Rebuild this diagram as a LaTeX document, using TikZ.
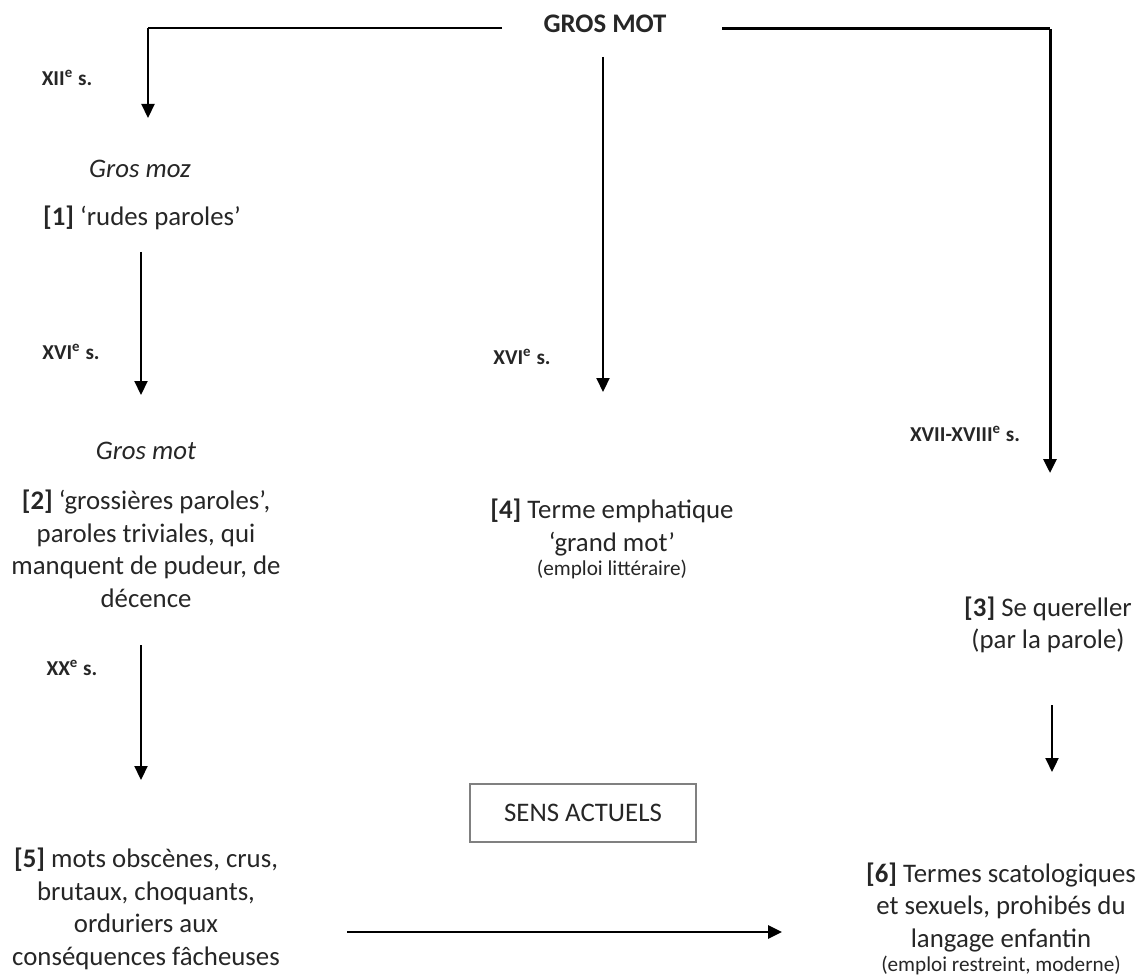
\documentclass[tikz,border=0pt]{standalone}
\usepackage{fontspec}
\setmainfont{Carlito}
\usetikzlibrary{arrows.meta}
\def\grandfont{\fontsize{13.4}{16.25}\selectfont}
\def\petitfont{\fontsize{10.6}{12.5}\selectfont}

\tikzset{
	sens/.style={align=center, inner sep=0pt, text=black!85, font=\grandfont},
	siecle/.style={inner sep=0pt, text=black!85, font=\petitfont\bfseries},
	trait/.style={line width=1.2pt},
	fleche/.style={line width=1.1pt, -{Triangle[width=6.5pt,length=7pt]}},
}

\begin{document}
\begin{tikzpicture}[x=0.5pt, y=-0.5pt]
		%%%%% START %%%%%
		\useasboundingbox (0,0) rectangle (1144,978);
		
		\node[sens, font=\grandfont\bfseries] (gros) at (605,24) {GROS MOT};
		
		\coordinate (hautG) at (502,28);
		\coordinate (coinG) at (148,28);
		\coordinate (hautD) at (722,29);
		\coordinate (coinD) at (1050,29);
		\draw[trait] (hautG) -- (coinG);
		\draw[trait, line width=1.5pt] (hautD) -- (coinD);
		
		% colonne gauche
		\coordinate (f1) at (148,118);
		\draw[fleche] (coinG) -- (f1);
		\node[siecle] (xii) at (67,78) {XII\textsuperscript{e} s.};
		
		\node[sens, font=\grandfont\itshape] (moz) at (140,169) {Gros moz};
		\node[sens] (s1) at (142,218) {\textbf{[1]} ‘rudes paroles’};
		
		\coordinate (d2) at (141,252);
		\coordinate (f2) at (141,395);
		\draw[fleche] (d2) -- (f2);
		\node[siecle] (xvi) at (71,352) {XVI\textsuperscript{e} s.};
		
		\node[sens, font=\grandfont\itshape] (mot) at (146,451) {Gros mot};
		\node[sens] (s2) at (146,549) {\textbf{[2]} ‘grossières paroles’,\\ paroles triviales, qui\\ manquent de pudeur, de\\ décence};
		
		\coordinate (d3) at (141,645);
		\coordinate (f3) at (141,780);
		\draw[fleche] (d3) -- (f3);
		\node[siecle] (xx) at (72,668) {XX\textsuperscript{e} s.};
		
		\node[sens] (s5) at (146,909) {\textbf{[5]} mots obscènes, crus,\\ brutaux, choquants,\\ orduriers aux\\ conséquences fâcheuses};
		
		% colonne du milieu
		\coordinate (d4) at (603,57);
		\coordinate (f4) at (603,392);
		\draw[fleche] (d4) -- (f4);
		\node[siecle] (xvi2) at (522,357) {XVI\textsuperscript{e} s.};
		
		\node[sens] (s4) at (612,539) {\textbf{[4]} Terme emphatique\\ ‘grand mot’\\[-4pt] {\petitfont (emploi littéraire)}};
		
		\node[sens, draw=black!50, line width=0.6pt, minimum width=113pt, minimum height=29pt] (actuels) at (583,813) {SENS ACTUELS};
		
		% colonne droite
		\coordinate (f5) at (1050,473);
		\draw[fleche, line width=1.5pt] (coinD) -- (f5);
		\node[siecle] (xvii) at (965,434) {XVII-XVIII\textsuperscript{e} s.};
		
		\node[sens] (s3) at (1048,625) {\textbf{[3]} Se quereller\\ (par la parole)};
		
		\coordinate (d6) at (1052,705);
		\coordinate (f6) at (1052,772);
		\draw[fleche] (d6) -- (f6);
		
		\node[sens] (s6) at (1001,919) {\textbf{[6]} Termes scatologiques\\ et sexuels, prohibés du\\ langage enfantin\\[-4pt] {\petitfont (emploi restreint, moderne)}};
		
		\coordinate (d7) at (347,932);
		\coordinate (f7) at (782,932);
		\draw[fleche, line width=1.3pt] (d7) -- (f7);
		
		%%%%% END %%%%%
	\end{tikzpicture}
\end{document}
